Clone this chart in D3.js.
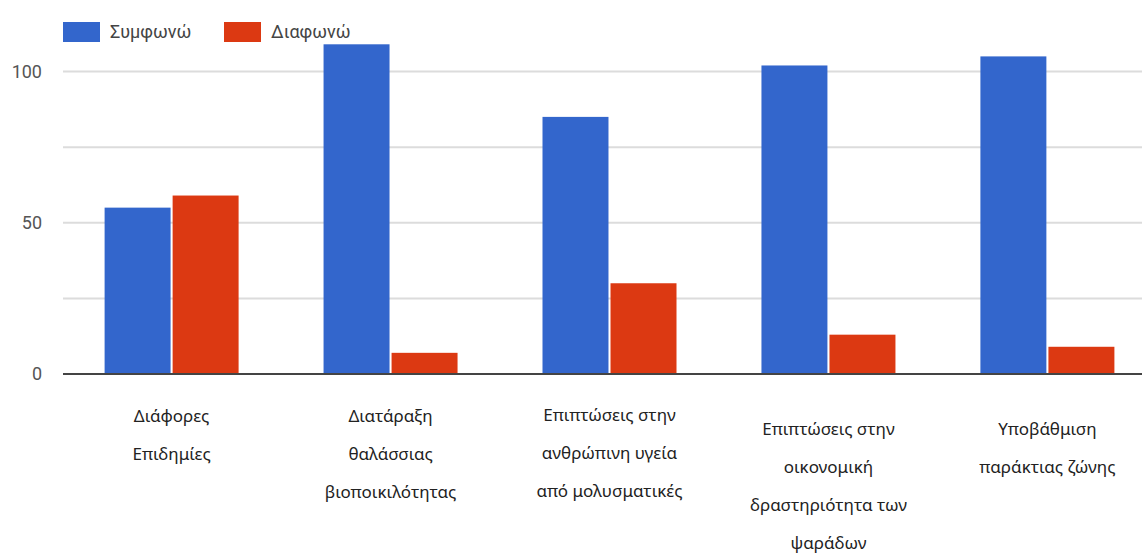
<!DOCTYPE html>
<html>
<head>
<meta charset="utf-8">
<script src="https://cdn.jsdelivr.net/npm/d3@7"></script>
<style>
  body { margin: 0; background: #fff; }
  svg { display: block; }
</style>
</head>
<body>
<div id="chart"></div>
<script>
// categories (x axis), split into lines as in the picture
const categories = [
  ["Διάφορες", "Επιδημίες"],
  ["Διατάραξη", "θαλάσσιας", "βιοποικιλότητας"],
  ["Επιπτώσεις στην", "ανθρώπινη υγεία", "από μολυσματικές"],
  ["Επιπτώσεις στην", "οικονομική", "δραστηριότητα των", "ψαράδων"],
  ["Υποβάθμιση", "παράκτιας ζώνης"]
];
const seriesNames = ["Συμφωνώ", "Διαφωνώ"];
const agree = [55, 109, 85, 102, 105];
const disagree = [59, 7, 30, 13, 9];
const gridTicks = [0, 25, 50, 75, 100, 125];
const tickLabels = [0, 50, 100];

const width = 1142, height = 553;
const colors = ["#3366cc", "#dc3912"];

const svg = d3.select("#chart").append("svg")
  .attr("width", width)
  .attr("height", height);

const keys = categories.map(c => c.join(" "));

// x scales: groups, then series inside each group
const x0 = d3.scaleBand()
  .domain(keys)
  .range([63, 1156])
  .paddingInner(0.388)
  .paddingOuter(0.19);

const x1 = d3.scaleBand()
  .domain(seriesNames)
  .range([0, x0.bandwidth()])
  .paddingInner(0.03);

const y = d3.scaleLinear()
  .domain([0, 125])
  .range([374, -4.1]);

// gridlines
svg.append("g")
  .selectAll("line")
  .data(gridTicks.filter(d => d > 0))
  .join("line")
  .attr("x1", 63).attr("x2", width)
  .attr("y1", d => y(d)).attr("y2", d => y(d))
  .attr("stroke", "#dcdcdc")
  .attr("stroke-width", 2);

// y axis labels
const yAxis = d3.axisLeft(y).tickValues(tickLabels).tickSize(0).tickPadding(0);
svg.append("g")
  .attr("transform", "translate(42,0)")
  .call(yAxis)
  .call(g => g.select(".domain").remove())
  .selectAll("text")
  .attr("font-family", "Roboto, sans-serif")
  .attr("font-size", 18)
  .attr("fill", "#555");

// bars
const rows = keys.map((k, i) => ({ key: k, values: [agree[i], disagree[i]] }));

const groups = svg.append("g")
  .selectAll("g")
  .data(rows)
  .join("g")
  .attr("transform", d => `translate(${x0(d.key)},0)`);

groups.selectAll("rect")
  .data(d => d.values.map((v, j) => ({ name: seriesNames[j], value: v, j: j })))
  .join("rect")
  .attr("x", d => x1(d.name))
  .attr("width", x1.bandwidth())
  .attr("y", d => y(d.value))
  .attr("height", d => y(0) - y(d.value))
  .attr("fill", d => colors[d.j]);

// zero baseline
svg.append("line")
  .attr("x1", 63).attr("x2", width)
  .attr("y1", y(0)).attr("y2", y(0))
  .attr("stroke", "#444")
  .attr("stroke-width", 2);

// category labels
const labelTop = [422, 422, 421, 435, 435];
const lineH = 38;
svg.append("g")
  .selectAll("text")
  .data(categories)
  .join("text")
  .attr("text-anchor", "middle")
  .attr("font-family", "'Noto Sans', sans-serif")
  .attr("font-size", 17)
  .attr("fill", "#222")
  .each(function (lines, i) {
    const cx = x0(keys[i]) + x0.bandwidth() / 2;
    d3.select(this).selectAll("tspan")
      .data(lines)
      .join("tspan")
      .attr("x", cx)
      .attr("y", (l, k) => labelTop[i] + k * lineH)
      .text(l => l);
  });

// legend
const legend = svg.append("g")
  .selectAll("g")
  .data(seriesNames)
  .join("g")
  .attr("transform", (d, i) => `translate(${[63, 224][i]},22)`);

legend.append("rect")
  .attr("width", 37)
  .attr("height", 20)
  .attr("fill", (d, i) => colors[i]);

legend.append("text")
  .attr("x", 47)
  .attr("y", 16)
  .attr("font-family", "Roboto, sans-serif")
  .attr("font-size", 18)
  .attr("fill", "#444")
  .text(d => d);
</script>
</body>
</html>
